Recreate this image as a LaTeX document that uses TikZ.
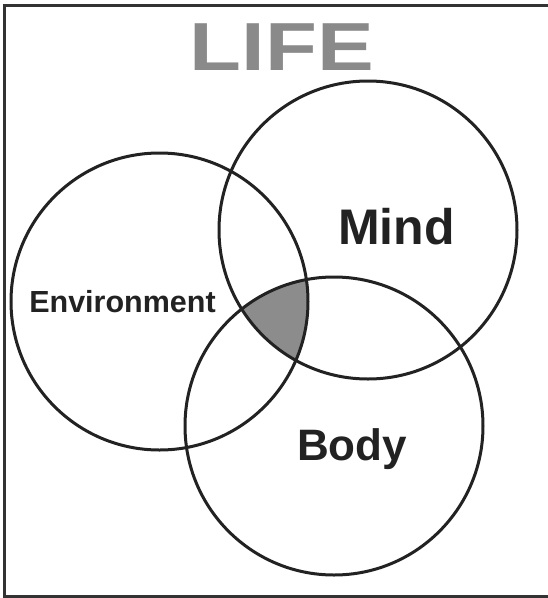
\documentclass[tikz,border=0pt]{standalone}
\usepackage{fontspec}
\setmainfont{Liberation Sans}
\definecolor{linec}{HTML}{222222}
\definecolor{fillc}{HTML}{8C8C8C}
\definecolor{lifec}{HTML}{8A8A8A}
\definecolor{framec}{HTML}{333333}
\definecolor{textc}{HTML}{222222}
\begin{document}
\begin{tikzpicture}[x=1pt,y=-1pt,
  ring/.style={circle,draw=linec,line width=3pt,minimum size=#1,inner sep=0pt},
  lbl/.style={anchor=base,inner sep=0pt,text=textc}]
\useasboundingbox (0,0) rectangle (548,598);
\fill[white] (0,0) rectangle (548,598);
% frame
\coordinate (ftr) at (552,5.5);
\coordinate (ftl) at (4.5,5.5);
\coordinate (fbl) at (4.5,596);
\coordinate (fbr) at (552,596);
\draw[framec,line width=3pt] (ftr) -- (ftl) -- (fbl) -- (fbr);
% centres
\coordinate (ce) at (159.5,301.5);
\coordinate (cm) at (368,230);
\coordinate (cb) at (334,426);
% shaded triple intersection
\begin{scope}
  \clip (ce) circle (148.5);
  \clip (cm) circle (149);
  \fill[fillc] (cb) circle (149);
\end{scope}
% circles
\node[ring=297pt] (env) at (ce) {};
\node[ring=298pt] (mind) at (cm) {};
\node[ring=298pt] (body) at (cb) {};
% labels
\node[lbl,text=lifec,font=\fontsize{68}{68}\selectfont\bfseries] (life) at (282,70) {\scalebox{1.25}[1]{LIFE}};
\node[lbl,font=\fontsize{50}{50}\selectfont\bfseries] (mindt) at (396.5,244) {Mind};
\node[lbl,font=\fontsize{44}{44}\selectfont\bfseries] (bodyt) at (352,460) {Body};
\node[lbl,font=\fontsize{30.5}{30.5}\selectfont\bfseries] (envt) at (122.5,312) {Environment};
\end{tikzpicture}
\end{document}
